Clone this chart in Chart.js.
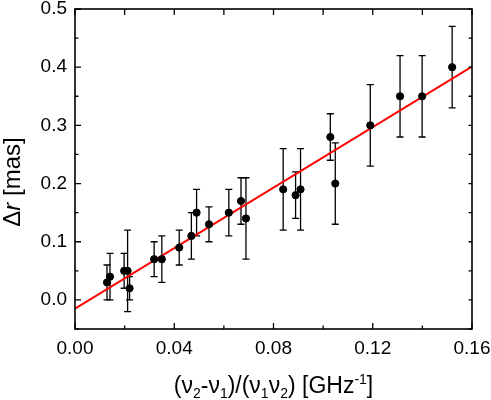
<!DOCTYPE html>
<html>
<head>
<meta charset="utf-8">
<script src="https://cdn.jsdelivr.net/npm/chart.js@4/dist/chart.umd.min.js"></script>
<style>
  html, body { margin: 0; padding: 0; background: #fff; }
  #wrap { width: 491px; height: 400px; }
</style>
</head>
<body>
<div id="wrap"><canvas id="chart"></canvas></div>
<script>
// measured points (x in 1/GHz, y in mas)
const xVals = [0.0129, 0.0141, 0.0198, 0.0212, 0.0220, 0.0319, 0.0350, 0.0420, 0.0469, 0.0490, 0.0540, 0.0620,
  0.0669, 0.0689, 0.0839, 0.0889, 0.0909, 0.1029, 0.1049, 0.1190, 0.1310, 0.1399, 0.1520];
const yVals = [0.03, 0.04, 0.05, 0.05, 0.02, 0.07, 0.07, 0.09, 0.11, 0.15, 0.13, 0.15,
  0.17, 0.14, 0.19, 0.18, 0.19, 0.28, 0.20, 0.30, 0.35, 0.35, 0.40];
const yErr = [0.03, 0.04, 0.03, 0.07, 0.02, 0.03, 0.04, 0.03, 0.04, 0.04, 0.03, 0.04,
  0.04, 0.07, 0.07, 0.04, 0.07, 0.04, 0.07, 0.07, 0.07, 0.07, 0.07];

// linear fit
const fitX = [0, 0.16];
const fitY = [-0.015, 0.401];

// ticks
const xTicks = [0, 0.04, 0.08, 0.12, 0.16];
const xMinor = [0.02, 0.06, 0.10, 0.14];
const yTicks = [0, 0.1, 0.2, 0.3, 0.4, 0.5];
const yMinor = [-0.05, 0.05, 0.15, 0.25, 0.35, 0.45];

const FONT = "'Liberation Sans', Arial, sans-serif";

// error bars, drawn under the points
const errorBars = {
  id: 'errorBars',
  beforeDatasetsDraw(chart) {
    const { ctx, scales: { x, y } } = chart;
    ctx.save();
    ctx.strokeStyle = '#000';
    ctx.lineWidth = 1.3;
    xVals.forEach((xv, i) => {
      const px = x.getPixelForValue(xv);
      const top = y.getPixelForValue(yVals[i] + yErr[i]);
      const bot = y.getPixelForValue(yVals[i] - yErr[i]);
      ctx.beginPath();
      ctx.moveTo(px, top); ctx.lineTo(px, bot);
      ctx.moveTo(px - 3.5, top); ctx.lineTo(px + 3.5, top);
      ctx.moveTo(px - 3.5, bot); ctx.lineTo(px + 3.5, bot);
      ctx.stroke();
    });
    ctx.restore();
  }
};

// box frame, inward ticks and axis titles
const frame = {
  id: 'frame',
  afterDraw(chart) {
    const { ctx, chartArea: a, scales: { x, y } } = chart;
    ctx.save();
    ctx.strokeStyle = '#000';
    ctx.lineWidth = 1.6;
    ctx.strokeRect(a.left, a.top, a.right - a.left, a.bottom - a.top);

    ctx.lineWidth = 1.3;
    ctx.beginPath();
    xTicks.forEach(v => {
      const p = x.getPixelForValue(v);
      ctx.moveTo(p, a.bottom); ctx.lineTo(p, a.bottom - 6);
      ctx.moveTo(p, a.top); ctx.lineTo(p, a.top + 6);
    });
    xMinor.forEach(v => {
      const p = x.getPixelForValue(v);
      ctx.moveTo(p, a.bottom); ctx.lineTo(p, a.bottom - 3.5);
      ctx.moveTo(p, a.top); ctx.lineTo(p, a.top + 6);
    });
    yTicks.forEach(v => {
      const p = y.getPixelForValue(v);
      ctx.moveTo(a.left, p); ctx.lineTo(a.left + 6, p);
      ctx.moveTo(a.right, p); ctx.lineTo(a.right - 3.5, p);
    });
    yMinor.forEach(v => {
      const p = y.getPixelForValue(v);
      ctx.moveTo(a.left, p); ctx.lineTo(a.left + 3.5, p);
      ctx.moveTo(a.right, p); ctx.lineTo(a.right - 3.5, p);
    });
    ctx.stroke();

    ctx.fillStyle = '#000';
    ctx.textBaseline = 'alphabetic';

    // x title with sub/superscripts
    const big = `23px ${FONT}`, small = `14px ${FONT}`;
    const parts = [
      ['(\u03bd', big, 0], ['2', small, 5], ['-\u03bd', big, 0], ['1', small, 5], [')/(\u03bd', big, 0],
      ['1', small, 5], ['\u03bd', big, 0], ['2', small, 5], [') [GHz', big, 0], ['-1', small, -9], [']', big, 0]
    ];
    let w = 0;
    parts.forEach(p => { ctx.font = p[1]; w += ctx.measureText(p[0]).width; });
    let cx = (a.left + a.right) / 2 - w / 2;
    const base = 393;
    parts.forEach(p => {
      ctx.font = p[1];
      ctx.fillText(p[0], cx, base + p[2]);
      cx += ctx.measureText(p[0]).width;
    });

    // y title, rotated
    ctx.translate(20, 182);
    ctx.rotate(-Math.PI / 2);
    const yParts = [['\u0394', `24px ${FONT}`], ['r', `italic 24px ${FONT}`], [' [mas]', `24px ${FONT}`]];
    let yw = 0;
    yParts.forEach(p => { ctx.font = p[1]; yw += ctx.measureText(p[0]).width; });
    let yx = -yw / 2;
    yParts.forEach(p => {
      ctx.font = p[1];
      ctx.fillText(p[0], yx, 0);
      yx += ctx.measureText(p[0]).width;
    });
    ctx.restore();
  }
};

new Chart(document.getElementById('chart'), {
  type: 'scatter',
  data: {
    datasets: [
      {
        label: 'data',
        data: xVals.map((v, i) => ({ x: v, y: yVals[i] })),
        backgroundColor: '#000',
        borderColor: '#000',
        pointRadius: 3.6,
        pointHoverRadius: 3.6,
        order: 0
      },
      {
        type: 'line',
        label: 'fit',
        data: fitX.map((v, i) => ({ x: v, y: fitY[i] })),
        borderColor: '#ff0000',
        borderWidth: 2,
        pointRadius: 0,
        fill: false,
        order: 1
      }
    ]
  },
  options: {
    responsive: true,
    maintainAspectRatio: false,
    animation: false,
    layout: { padding: { top: 9, right: 19, bottom: 0, left: 0 } },
    plugins: { legend: { display: false }, tooltip: { enabled: false } },
    scales: {
      x: {
        type: 'linear',
        min: 0,
        max: 0.16,
        afterBuildTicks: s => { s.ticks = xTicks.map(v => ({ value: v })); },
        afterFit: s => { s.height = 71; s.paddingLeft = 0; s.paddingRight = 0; },
        grid: { display: false, drawTicks: false },
        border: { display: false },
        ticks: {
          padding: 8,
          color: '#000',
          font: { family: FONT, size: 19 },
          callback: v => v.toFixed(2)
        }
      },
      y: {
        type: 'linear',
        min: -0.05,
        max: 0.5,
        afterBuildTicks: s => { s.ticks = yTicks.map(v => ({ value: v })); },
        afterFit: s => { s.width = 75; s.paddingTop = 0; s.paddingBottom = 0; },
        grid: { display: false, drawTicks: false },
        border: { display: false },
        ticks: {
          padding: 8,
          color: '#000',
          font: { family: FONT, size: 19 },
          callback: v => v.toFixed(1)
        }
      }
    }
  },
  plugins: [errorBars, frame]
});
</script>
</body>
</html>
